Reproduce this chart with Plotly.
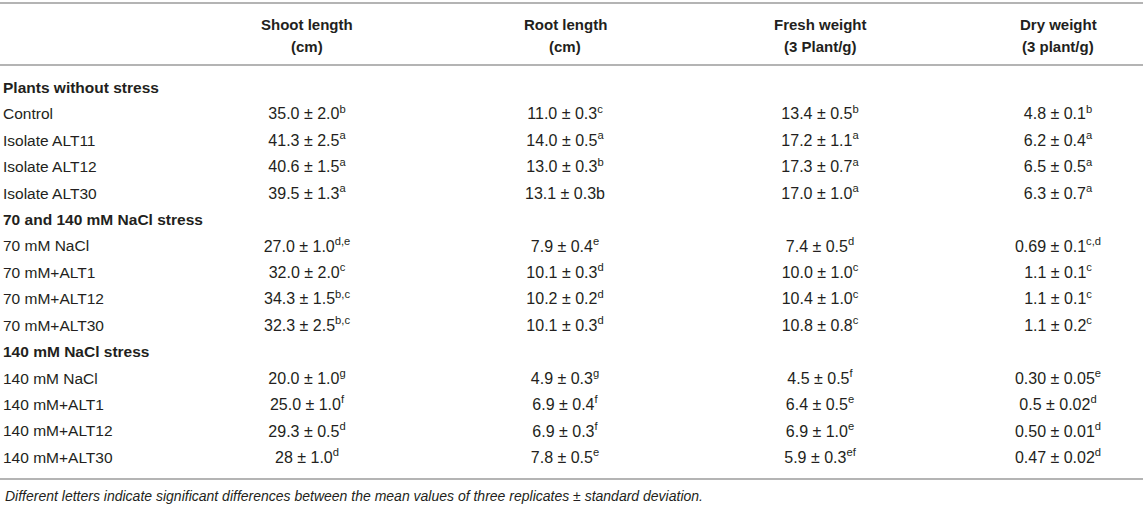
import plotly.graph_objects as go

W, H = 1143, 505

# ---------------- data ----------------
columns = [("Shoot length", "(cm)"), ("Root length", "(cm)"),
           ("Fresh weight", "(3 Plant/g)"), ("Dry weight", "(3 plant/g)")]

groups = ["Plants without stress", "70 and 140 mM NaCl stress", "140 mM NaCl stress"]

treatments = [
    ["Control", "Isolate ALT11", "Isolate ALT12", "Isolate ALT30"],
    ["70 mM NaCl", "70 mM+ALT1", "70 mM+ALT12", "70 mM+ALT30"],
    ["140 mM NaCl", "140 mM+ALT1", "140 mM+ALT12", "140 mM+ALT30"],
]

# (mean, sd, significance letters) per row, for each column
shoot = [("35.0", "2.0", "b"), ("41.3", "2.5", "a"), ("40.6", "1.5", "a"), ("39.5", "1.3", "a"),
         ("27.0", "1.0", "d,e"), ("32.0", "2.0", "c"), ("34.3", "1.5", "b,c"), ("32.3", "2.5", "b,c"),
         ("20.0", "1.0", "g"), ("25.0", "1.0", "f"), ("29.3", "0.5", "d"), ("28", "1.0", "d")]
root = [("11.0", "0.3", "c"), ("14.0", "0.5", "a"), ("13.0", "0.3", "b"), ("13.1", "0.3b", ""),
        ("7.9", "0.4", "e"), ("10.1", "0.3", "d"), ("10.2", "0.2", "d"), ("10.1", "0.3", "d"),
        ("4.9", "0.3", "g"), ("6.9", "0.4", "f"), ("6.9", "0.3", "f"), ("7.8", "0.5", "e")]
fresh = [("13.4", "0.5", "b"), ("17.2", "1.1", "a"), ("17.3", "0.7", "a"), ("17.0", "1.0", "a"),
         ("7.4", "0.5", "d"), ("10.0", "1.0", "c"), ("10.4", "1.0", "c"), ("10.8", "0.8", "c"),
         ("4.5", "0.5", "f"), ("6.4", "0.5", "e"), ("6.9", "1.0", "e"), ("5.9", "0.3", "ef")]
dry = [("4.8", "0.1", "b"), ("6.2", "0.4", "a"), ("6.5", "0.5", "a"), ("6.3", "0.7", "a"),
       ("0.69", "0.1", "c,d"), ("1.1", "0.1", "c"), ("1.1", "0.1", "c"), ("1.1", "0.2", "c"),
       ("0.30", "0.05", "e"), ("0.5", "0.02", "d"), ("0.50", "0.01", "d"), ("0.47", "0.02", "d")]

footnote = ("Different letters indicate significant differences between the mean values "
            "of three replicates ± standard deviation.")

# ---------------- layout constants ----------------
FONT = "Liberation Sans, Arial, Helvetica, sans-serif"
TXT = "#231f20"
LINE = "#b4b4b4"
FS_LABEL = 15.5
FS_VAL = 16
FS_HEAD = 15
col_x = [307, 565, 820, 1058]
label_x = 3
row_y0, row_dy = 89, 26.43
head_y = [24, 46]

# build row list
row_labels, row_cells = [], []
idx = 0
for g, trs in zip(groups, treatments):
    row_labels.append("<b>%s</b>" % g)
    row_cells.append(None)
    for t in trs:
        row_labels.append(t)
        row_cells.append(idx)
        idx += 1
row_ys = [row_y0 + k * row_dy for k in range(len(row_labels))]

fig = go.Figure()

# label column
fig.add_trace(go.Scatter(
    x=[label_x] * len(row_labels), y=row_ys, text=row_labels,
    mode="text", textposition="middle right", cliponaxis=False,
    textfont=dict(family=FONT, size=FS_LABEL, color=TXT),
    hoverinfo="skip", showlegend=False))

def fmt(c):
    m, s, l = c
    t = "%s ± %s" % (m, s)
    if l:
        t += "<sup>%s</sup>" % l
    return t

for cx, data in zip(col_x, [shoot, root, fresh, dry]):
    ys, ts = [], []
    for y, ci in zip(row_ys, row_cells):
        if ci is None:
            continue
        ys.append(y)
        ts.append(fmt(data[ci]))
    fig.add_trace(go.Scatter(
        x=[cx] * len(ys), y=ys, text=ts, mode="text", textposition="middle center",
        cliponaxis=False,
        textfont=dict(family=FONT, size=FS_VAL, color=TXT),
        hoverinfo="skip", showlegend=False))

# headers
for cx, (h1, h2) in zip(col_x, columns):
    for hy, ht in zip(head_y, (h1, h2)):
        fig.add_annotation(x=cx, y=hy, xref="x", yref="y", text="<b>%s</b>" % ht,
                           showarrow=False, xanchor="center", yanchor="middle",
                           font=dict(family=FONT, size=FS_HEAD, color=TXT))

# footnote
fig.add_annotation(x=label_x, y=496, xref="x", yref="y", text="<i>%s</i>" % footnote,
                   showarrow=False, xanchor="left", yanchor="middle",
                   font=dict(family=FONT, size=14, color=TXT))

# rules
for ly in [3, 65, 479]:
    fig.add_shape(type="line", x0=0, x1=W, y0=ly, y1=ly, xref="x", yref="y",
                  line=dict(color=LINE, width=1.8))

fig.update_xaxes(range=[0, W], visible=False, fixedrange=True)
fig.update_yaxes(range=[H, 0], visible=False, fixedrange=True)
fig.update_layout(width=W, height=H, margin=dict(l=0, r=0, t=0, b=0),
                  paper_bgcolor="white", plot_bgcolor="white")

# remove the default 8px body margin so the figure fills the window exactly
fig.write_html("out.html", config={"displayModeBar": False},
               post_script="document.body.style.margin='0px';"
                           "document.body.style.overflow='hidden';")
